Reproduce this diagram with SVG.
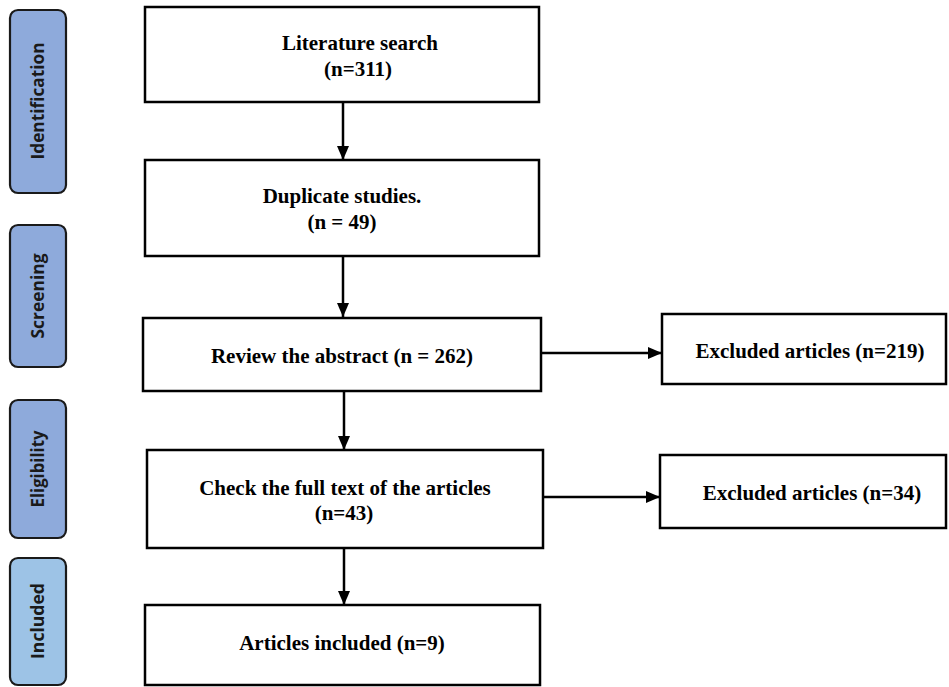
<svg xmlns="http://www.w3.org/2000/svg" width="949" height="687" viewBox="0 0 949 687">
<defs>
<style>
.stage{stroke:#1a1a1a;stroke-width:2.2;}
.s1{fill:#8eaadb;}
.s2{fill:#9dc3e6;}
.stxt{font-family:"Open Sans","Liberation Sans",sans-serif;font-weight:700;font-size:17px;fill:#1a1a1a;text-anchor:middle;}
.box{fill:#ffffff;stroke:#000;stroke-width:2.5;}
.txt{font-family:"Liberation Serif","Times New Roman",serif;font-weight:700;font-size:21px;fill:#000;text-anchor:middle;}
.conn{stroke:#000;stroke-width:2.5;fill:none;}
</style>
<marker id="ah" viewBox="0 0 14 12" refX="14" refY="6" markerWidth="14" markerHeight="12" markerUnits="userSpaceOnUse" orient="auto">
<path d="M0,0 L14,6 L0,12 Z" fill="#000"/>
</marker>
</defs>
<g id="stage-identification">
<rect class="stage s1" x="10" y="10" width="56" height="183" rx="8"/>
<text class="stxt" transform="translate(44,101) rotate(-90)" textLength="117" lengthAdjust="spacingAndGlyphs">Identification</text>
</g>
<g id="stage-screening">
<rect class="stage s1" x="10" y="225" width="56" height="142" rx="8"/>
<text class="stxt" transform="translate(44,296) rotate(-90)" textLength="85" lengthAdjust="spacingAndGlyphs">Screening</text>
</g>
<g id="stage-eligibility">
<rect class="stage s1" x="10" y="400" width="56" height="138" rx="8"/>
<text class="stxt" transform="translate(44,469) rotate(-90)" textLength="77" lengthAdjust="spacingAndGlyphs">Eligibility</text>
</g>
<g id="stage-included">
<rect class="stage s2" x="10" y="558" width="56" height="127" rx="8"/>
<text class="stxt" transform="translate(44,621) rotate(-90)" textLength="76" lengthAdjust="spacingAndGlyphs">Included</text>
</g>
<g id="literature-search">
<rect class="box" x="145" y="7" width="394" height="95"/>
<text class="txt" x="360" y="50">Literature search</text>
<text class="txt" x="358" y="76">(n=311)</text>
</g>
<g id="duplicate-studies">
<rect class="box" x="145" y="160" width="394" height="96"/>
<text class="txt" x="342" y="203">Duplicate studies.</text>
<text class="txt" x="342" y="229">(n = 49)</text>
</g>
<g id="review-abstract">
<rect class="box" x="143" y="318" width="398" height="73"/>
<text class="txt" x="342" y="363">Review the abstract (n = 262)</text>
</g>
<g id="check-full-text">
<rect class="box" x="147" y="450" width="396" height="98"/>
<text class="txt" x="345" y="495">Check the full text of the articles</text>
<text class="txt" x="344" y="520">(n=43)</text>
</g>
<g id="articles-included">
<rect class="box" x="145" y="605" width="395" height="80"/>
<text class="txt" x="342" y="650">Articles included (n=9)</text>
</g>
<g id="excluded-219">
<rect class="box" x="662" y="314" width="284" height="70"/>
<text class="txt" x="810" y="358">Excluded articles (n=219)</text>
</g>
<g id="excluded-34">
<rect class="box" x="660" y="455" width="286" height="73"/>
<text class="txt" x="812" y="500">Excluded articles (n=34)</text>
</g>
<g id="connectors">
<line class="conn" x1="343" y1="102" x2="343" y2="160" marker-end="url(#ah)"/>
<line class="conn" x1="343" y1="256" x2="343" y2="317" marker-end="url(#ah)"/>
<line class="conn" x1="344" y1="391" x2="344" y2="450" marker-end="url(#ah)"/>
<line class="conn" x1="344" y1="548" x2="344" y2="605" marker-end="url(#ah)"/>
<line class="conn" x1="541" y1="353" x2="662" y2="353" marker-end="url(#ah)"/>
<line class="conn" x1="543" y1="497" x2="660" y2="497" marker-end="url(#ah)"/>
</g>
</svg>
